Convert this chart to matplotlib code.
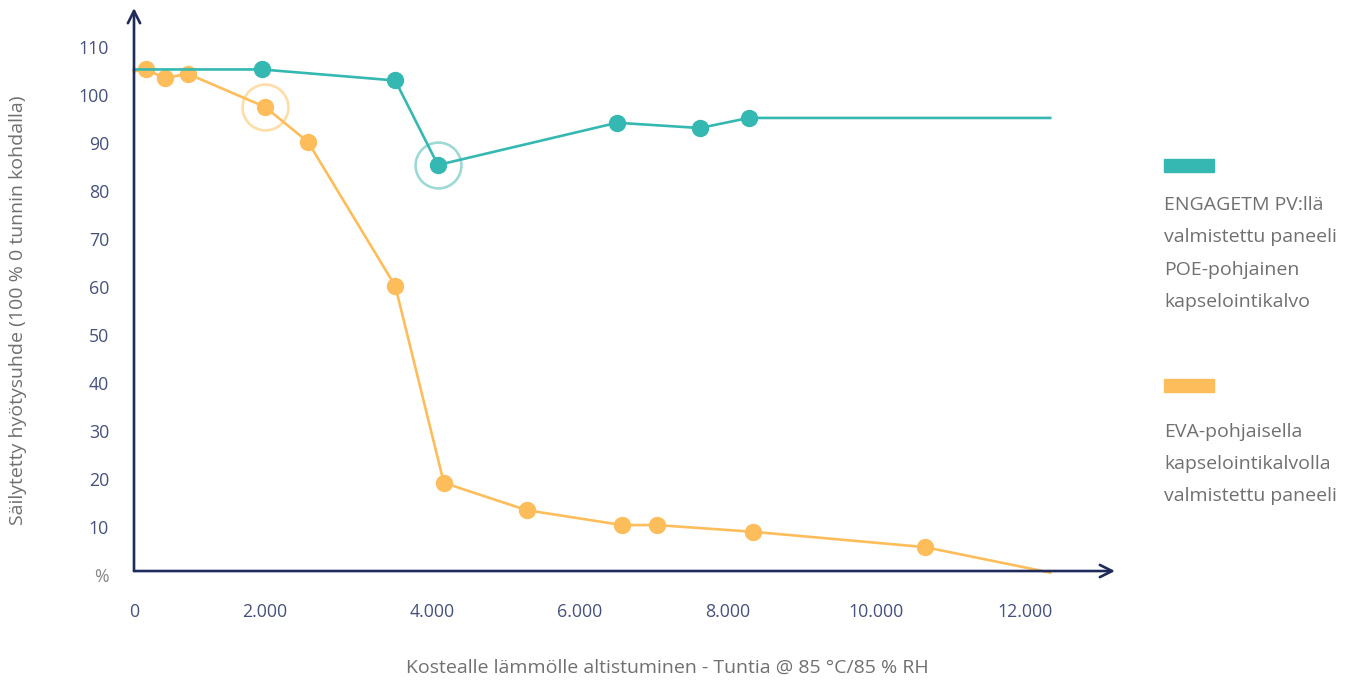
import numpy as np
import matplotlib
matplotlib.use("Agg")
import matplotlib.pyplot as plt
from matplotlib.patches import Rectangle

# --- data ---
teal_hours = [0, 1950, 3560, 4080, 6500, 7620, 8280, 12340]
teal_vals = [105.3, 105.3, 103.0, 85.4, 94.2, 93.1, 95.2, 95.2]
teal_marks = [1, 2, 3, 4, 5, 6]
teal_halo = 3

orange_hours = [0, 180, 470, 820, 2000, 2515, 3560, 4160, 5280, 6570, 7040, 8340, 10660, 12340]
orange_vals = [104.9, 105.3, 103.5, 104.4, 97.5, 90.2, 60.2, 19.2, 13.5, 10.4, 10.4, 9.0, 5.8, 0.5]
orange_marks = list(range(1, 13))
orange_halo = 4

x_ticks = [0, 2000, 4000, 6000, 8000, 10000, 12000]
x_ticklabels = ["0", "2.000", "4.000", "6.000", "8.000", "10.000", "12.000"]
y_ticks = [0, 10, 20, 30, 40, 50, 60, 70, 80, 90, 100, 110]
y_ticklabels = ["%"] + [str(v) for v in y_ticks[1:]]

legend_teal = ["ENGAGETM PV:llä", "valmistettu paneeli", "POE-pohjainen", "kapselointikalvo"]
legend_orange = ["EVA-pohjaisella", "kapselointikalvolla", "valmistettu paneeli"]

TEAL = "#35B8B1"
TEAL_LIGHT = "#9ED9D5"
ORANGE = "#FDBD5B"
ORANGE_LIGHT = "#FDDDA8"
NAVY = "#1F2B5B"
TICK_C = "#46517C"
GREY = "#707070"

plt.rcParams['font.family'] = ['Open Sans', 'DejaVu Sans']

# tick labels in the original are not evenly spaced -> piecewise scale
H = np.array([0, 2000, 4000, 6000, 8000, 10000, 12000, 14000], dtype=float)
P = np.array([0, 131, 298, 446, 594, 742, 891, 1039.5], dtype=float)

def fwd(h):
    return np.interp(h, H, P)

def inv(p):
    return np.interp(p, P, H)

fig = plt.figure(figsize=(13.48, 6.82), dpi=100)
W, Hpx = 1348, 682
ax = fig.add_axes([134 / W, (Hpx - 575) / Hpx, (1115 - 134) / W, (575 - 8) / Hpx])
ax.set_xscale('function', functions=(fwd, inv))
ax.set_xlim(0, inv(1115 - 134))
ax.set_ylim(0, 118.1)

for s in ax.spines.values():
    s.set_visible(False)

# series
ax.plot(teal_hours, teal_vals, color=TEAL, lw=1.9, marker='o', ms=11.5,
        markevery=teal_marks, zorder=4, clip_on=False)
ax.plot(orange_hours, orange_vals, color=ORANGE, lw=1.9, marker='o', ms=11.5,
        markevery=orange_marks, zorder=3, clip_on=False)
ax.plot(teal_hours[teal_halo], teal_vals[teal_halo], marker='o', ms=33, mfc='none',
        mec=TEAL_LIGHT, mew=1.9, zorder=2, ls='none')
ax.plot(orange_hours[orange_halo], orange_vals[orange_halo], marker='o', ms=33, mfc='none',
        mec=ORANGE_LIGHT, mew=1.9, zorder=2, ls='none')

# axes with arrows
arrow = dict(arrowstyle='->', lw=1.9, color=NAVY, mutation_scale=22, shrinkA=0, shrinkB=0)
ax.annotate('', xy=(0, 1), xytext=(0, 0.007), xycoords='axes fraction', arrowprops=arrow, zorder=5)
ax.annotate('', xy=(1, 0.007), xytext=(0, 0.007), xycoords='axes fraction', arrowprops=arrow, zorder=5)

ax.set_xticks(x_ticks)
ax.set_xticklabels(x_ticklabels)
ax.set_yticks(y_ticks)
ax.set_yticklabels(y_ticklabels)
ax.tick_params(axis='both', length=0, labelsize=12.8, colors=TICK_C)
ax.tick_params(axis='x', pad=20)
ax.tick_params(axis='y', pad=18)
ax.get_yticklabels()[0].set_color("#888888")

fig.text(667 / W, 1 - 668 / Hpx, "Kostealle lämmölle altistuminen - Tuntia @ 85 °C/85 % RH",
         ha='center', va='center', fontsize=14, color=GREY)
fig.text(18 / W, 1 - 310 / Hpx, "Säilytetty hyötysuhde (100 % 0 tunnin kohdalla)",
         ha='center', va='center', rotation=90, fontsize=14, color=GREY)

# legend
fig.patches.append(Rectangle((1164 / W, 1 - 172 / Hpx), 50 / W, 13 / Hpx,
                             transform=fig.transFigure, color=TEAL))
fig.patches.append(Rectangle((1164 / W, 1 - 392 / Hpx), 50 / W, 13 / Hpx,
                             transform=fig.transFigure, color=ORANGE))
for i, t in enumerate(legend_teal):
    fig.text(1164 / W, 1 - (205 + 32.3 * i) / Hpx, t, ha='left', va='center',
             fontsize=14, color=GREY)
for i, t in enumerate(legend_orange):
    fig.text(1164 / W, 1 - (432 + 32 * i) / Hpx, t, ha='left', va='center',
             fontsize=14, color=GREY)

fig.savefig("out.png", dpi=100)
